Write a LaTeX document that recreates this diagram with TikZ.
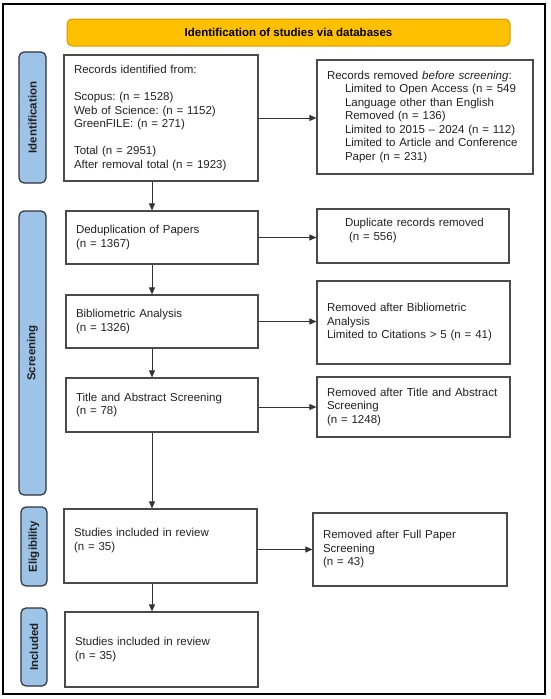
\documentclass[tikz,border=0pt]{standalone}
\usepackage{fontspec}
\setmainfont{Liberation Sans}
\usetikzlibrary{arrows.meta}
\definecolor{boxc}{HTML}{4A4A4A}
\definecolor{textc}{HTML}{222222}
\definecolor{arrc}{HTML}{333333}
\definecolor{hdrfill}{HTML}{FFC000}
\definecolor{hdrdraw}{HTML}{D09A00}
\definecolor{labfill}{HTML}{9DC3E6}
\definecolor{labdraw}{HTML}{2E3440}
\begin{document}
\frenchspacing
\begin{tikzpicture}[x=1pt,y=-1pt,
  box/.style={draw=boxc, line width=1.2pt, align=left, inner xsep=10pt, inner ysep=0pt,
    font=\frenchspacing\fontsize{11.5}{13.5}\selectfont, text=textc},
  lab/.style={draw=labdraw, fill=labfill, rounded corners=5pt, line width=1.2pt,
    font=\bfseries\fontsize{11.5}{13.5}\selectfont, text=textc, rotate=90, inner sep=0pt},
  hdr/.style={draw=hdrdraw, fill=hdrfill, rounded corners=5pt, line width=1pt,
    font=\bfseries\fontsize{11.5}{13.5}\selectfont, text=black, inner sep=0pt},
  arr/.style={-{Triangle[length=7pt,width=6pt]}, line width=0.8pt, draw=arrc}]
\useasboundingbox (0,0) rectangle (550,699);
\fill[white] (0,0) rectangle (550,699);
\draw[line width=1.5pt, draw=black] (3,4) rectangle (545,694);

% header
\node[hdr, minimum width=443pt, minimum height=27pt] (hdr) at (288.5,32.5) {Identification of studies via databases};

% side labels
\node[lab, minimum width=131pt, minimum height=27pt] (lid) at (32.5,117.5) {Identification};
\node[lab, minimum width=284pt, minimum height=27pt] (lsc) at (32.5,353) {Screening};
\node[lab, minimum width=79pt, minimum height=26pt] (lel) at (34,546.5) {Eligibility};
\node[lab, minimum width=78pt, minimum height=26pt] (lin) at (34,647) {Included};

% left column
\node[box, text width=174pt, minimum height=126pt] (rec) at (161,118)
  {Records identified from:\\\mbox{}\\Scopus: (n = 1528)\\Web of Science: (n = 1152)\\GreenFILE: (n = 271)\\\mbox{}\\Total (n = 2951)\\After removal total (n = 1923)};
\node[box, text width=172pt, minimum height=53pt] (dedup) at (162,237.5)
  {Deduplication of Papers\\(n = 1367)};
\node[box, text width=172pt, minimum height=53pt] (bib) at (162,321.5)
  {Bibliometric Analysis\\(n = 1326)};
\node[box, text width=172pt, minimum height=54pt] (tas) at (162,405)
  {Title and Abstract Screening\\(n = 78)};
\node[box, text width=173pt, minimum height=74pt] (elig) at (160.5,546)
  {Studies included in review\\(n = 35)\\\mbox{}};
\node[box, text width=173pt, minimum height=75pt] (incl) at (161.5,649.5)
  {Studies included in review\\(n = 35)};

% right column
\node[box, text width=196pt, minimum height=114pt] (rem) at (425,117)
  {Records removed \textit{before screening}:\\
   \hspace*{18pt}Limited to Open Access (n = 549\\
   \hspace*{18pt}Language other than English\\
   \hspace*{18pt}Removed (n = 136)\\
   \hspace*{18pt}Limited to 2015 -- 2024 (n = 112)\\
   \hspace*{18pt}Limited to Article and Conference\\
   \hspace*{18pt}Paper (n = 231)};
\node[box, text width=172pt, minimum height=54pt] (dup) at (413,236)
  {\hspace*{18pt}Duplicate records removed\\\hspace*{22pt}(n = 556)\\\mbox{}};
\node[box, text width=173pt, minimum height=83pt] (bibr) at (413.5,322.5)
  {Removed after Bibliometric\\Analysis\\Limited to Citations > 5 (n = 41)};
\node[box, text width=173pt, minimum height=60pt] (tasr) at (413.5,407)
  {Removed after Title and Abstract\\Screening\\(n = 1248)};
\node[box, text width=174pt, minimum height=73pt] (full) at (410,549.5)
  {Removed after Full Paper\\Screening\\(n = 43)};

% connectors
\coordinate (ax) at (152,0);
\draw[arr] (rec.south -| ax) -- (dedup.north -| ax);
\draw[arr] (dedup.south -| ax) -- (bib.north -| ax);
\draw[arr] (bib.south -| ax) -- (tas.north -| ax);
\draw[arr] (tas.south -| ax) -- (elig.north -| ax);
\draw[arr] (elig.south -| ax) -- (incl.north -| ax);

\draw[arr] (rec.east) -- (rec.east -| rem.west);
\draw[arr] (dedup.east) -- (dedup.east -| dup.west);
\draw[arr] (bib.east) -- (bib.east -| bibr.west);
\draw[arr] (tasr.west -| tas.east) -- (tasr.west);
\draw[arr] (full.west -| elig.east) -- (full.west);
\end{tikzpicture}
\end{document}
